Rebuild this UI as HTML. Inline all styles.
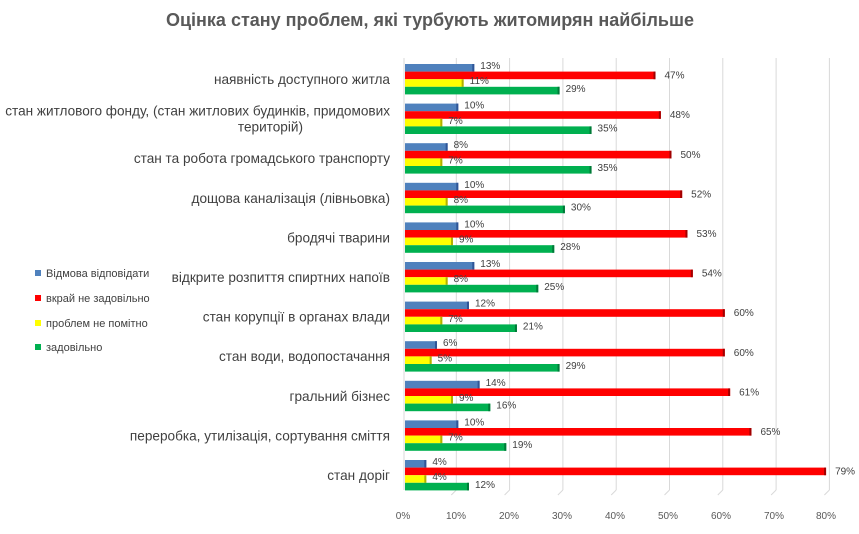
<!DOCTYPE html>
<html><head><meta charset="utf-8"><style>body{margin:0;background:#fff}svg{display:block}</style></head>
<body>
<svg width="859" height="534" xmlns="http://www.w3.org/2000/svg" font-family="Liberation Sans, sans-serif">
<rect width="859" height="534" fill="#fff"/>
<text x="430" y="26" text-anchor="middle" font-size="18" font-weight="bold" fill="#595959">Оцінка стану проблем, які турбують житомирян найбільше</text>
<g id="grid" stroke="#d9d9d9" stroke-width="1"></g>
<g id="bars"></g>
<g id="labels" font-size="13.6" fill="#404040" text-anchor="end"></g>
<g id="vals" font-size="10" fill="#404040"></g>
<g font-size="10" fill="#595959" text-anchor="middle">
<text x="403" y="519">0%</text><text x="456" y="519">10%</text><text x="509" y="519">20%</text><text x="562" y="519">30%</text><text x="615" y="519">40%</text><text x="668" y="519">50%</text><text x="721" y="519">60%</text><text x="774" y="519">70%</text><text x="826" y="519">80%</text>
</g>
<g font-size="11" fill="#404040">
<rect x="35" y="270" width="6" height="6" fill="#4f81bd"/><text x="46" y="277">Відмова відповідати</text>
<rect x="35" y="295" width="6" height="6" fill="#ff0000"/><text x="46" y="302">вкрай не задовільно</text>
<rect x="35" y="320" width="6" height="6" fill="#ffff00"/><text x="46" y="327">проблем не помітно</text>
<rect x="35" y="344" width="6" height="6" fill="#00b050"/><text x="46" y="351">задовільно</text>
</g>
<script>
const ns="http://www.w3.org/2000/svg";
function el(p,t,a,txt){const e=document.createElementNS(ns,t);for(const k in a)e.setAttribute(k,a[k]);if(txt!==undefined)e.textContent=txt;document.getElementById(p).appendChild(e);}
for(let i=1;i<=8;i++){const x=405+i*53.3;el('grid','line',{x1:x-2,y1:58,x2:x-2,y2:490});el('grid','line',{x1:x-2,y1:490,x2:x-7,y2:495});}
el('grid','line',{x1:404,y1:58,x2:404,y2:490});
const d=[["наявність доступного житла",13,47,11,29],["стан житлового фонду, (стан житлових будинків, придомових|територій)",10,48,7,35],["стан та робота громадського транспорту",8,50,7,35],["дощова каналізація (лівньовка)",10,52,8,30],["бродячі тварини",10,53,9,28],["відкрите розпиття спиртних напоїв",13,54,8,25],["стан корупції в органах влади",12,60,7,21],["стан води, водопостачання",6,60,5,29],["гральний бізнес",14,61,9,16],["переробка, утилізація, сортування сміття",10,65,7,19],["стан доріг",4,79,4,12]];
const cols=["#4f81bd","#ff0000","#ffff00","#00b050"],dark=["#2f5597","#a00000","#b0b000","#007a38"];
d.forEach((r,i)=>{const y0=64+i*39.6;
 const ls=r[0].split("|");
 if(ls.length==1) el('labels','text',{x:390,y:y0+20},ls[0]);
 else {el('labels','text',{x:390,y:y0+12},ls[0]);el('labels','text',{x:303,y:y0+28},ls[1]);}
 for(let k=0;k<4;k++){const v=r[k+1],w=v*5.33,y=y0+k*7.6;
  el('bars','rect',{x:405,y:y,width:w,height:7.6,fill:cols[k]});
  el('bars','rect',{x:405+w-2,y:y,width:2,height:7.6,fill:dark[k]});
  el('vals','text',{x:405+w+(k==1?9:6),y:y+(k==1?7:5)},v+"%");}
});
</script>
</svg>
</body></html>
